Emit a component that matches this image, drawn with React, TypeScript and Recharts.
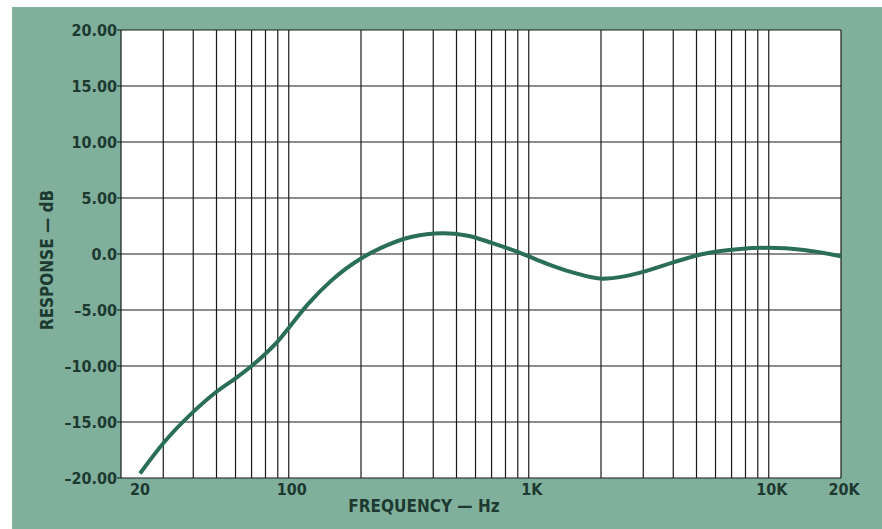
import React from "react";
import { LineChart, Line, XAxis, YAxis, CartesianGrid, Label } from "recharts";

// frequency response
const freqHz = [24, 30, 40, 50, 60, 70, 80, 90, 100, 120, 150, 200, 240, 320, 440, 550, 700, 920, 1200, 1500, 2030, 2500, 3000, 4000, 5200, 7600, 10000, 14000, 20000];
const responseDb = [-19.6, -16.9, -14.1, -12.3, -11.1, -10.0, -8.9, -7.8, -6.6, -4.5, -2.4, -0.4, 0.5, 1.5, 1.85, 1.65, 1.0, 0.1, -0.9, -1.6, -2.2, -2.0, -1.6, -0.75, -0.05, 0.45, 0.55, 0.35, -0.2];

const xGrid = [
  20, 30, 40, 50, 60, 70, 80, 90, 100,
  200, 300, 400, 500, 600, 700, 800, 900, 1000,
  2000, 3000, 4000, 5000, 6000, 7000, 8000, 9000, 10000, 20000,
];
const xLabels: Record<number, string> = { 20: "20", 100: "100", 1000: "1K", 10000: "10K", 20000: "20K" };
const yTicks = [-20, -15, -10, -5, 0, 5, 10, 15, 20];

const data = freqHz.map((hz, i) => ({ hz, db: responseDb[i] }));

const BG = "#80af9c";
const INK = "#1d3a30";
const CURVE = "#2a6e5a";
const FONT = "'DejaVu Sans Condensed', 'Liberation Sans', sans-serif";

const fmtY = (v: number) => (v === 0 ? "0.0" : v < 0 ? `\u2013${Math.abs(v).toFixed(2)}` : v.toFixed(2));

function FreqTick(props: any) {
  const { x, y, payload } = props;
  const label = xLabels[payload.value];
  if (!label) return null;
  const first = payload.value === 20;
  return (
    <text
      x={first ? x + 9 : x + 3}
      y={y + 17}
      textAnchor={first ? "start" : "middle"}
      fill={INK}
      fontFamily={FONT}
      fontWeight="bold"
      fontSize={16}
    >
      {label}
    </text>
  );
}

export default function App() {
  return (
    <div style={{ position: "absolute", left: 0, top: 0, width: 882, height: 529, background: "#fff" }}>
      <div style={{ position: "absolute", left: 12, top: 7, right: 0, bottom: 0, background: BG }} />
      <div style={{ position: "absolute", left: 0, top: 0 }}>
        <LineChart width={882} height={529} data={data} margin={{ top: 30, right: 41, bottom: 0, left: 0 }}>
          <CartesianGrid stroke="#1a1a1a" strokeWidth={1.2} fill="#fff" fillOpacity={1} />
          <XAxis
            dataKey="hz"
            type="number"
            scale="log"
            domain={[20, 20000]}
            ticks={xGrid}
            interval={0}
            allowDataOverflow
            axisLine={false}
            tickLine={false}
            tickSize={0}
            tickMargin={0}
            height={51}
            tick={<FreqTick />}
          >
            <Label
              value="FREQUENCY — Hz"
              position="insideBottom"
              offset={17}
              dx={-57}
              fill={INK}
              fontFamily={FONT}
              fontWeight="bold"
              fontSize={17}
            />
          </XAxis>
          <YAxis
            type="number"
            domain={[-20, 20]}
            ticks={yTicks}
            interval={0}
            width={121}
            axisLine={false}
            tickSize={4}
            tickMargin={0}
            tickLine={{ stroke: "#1a1a1a" }}
            tickFormatter={fmtY}
            tick={{ fill: INK, fontFamily: FONT, fontWeight: "bold", fontSize: 16 }}
          >
            <Label
              content={({ viewBox }: any) => {
                const cx = viewBox.x + 47;
                const cy = viewBox.y + viewBox.height / 2 + 6;
                return (
                  <text
                    x={cx}
                    y={cy}
                    transform={`rotate(-90 ${cx} ${cy})`}
                    textAnchor="middle"
                    dominantBaseline="central"
                    fill={INK}
                    fontFamily={FONT}
                    fontWeight="bold"
                    fontSize={17}
                  >
                    RESPONSE — dB
                  </text>
                );
              }}
            />
          </YAxis>
          <Line
            dataKey="db"
            type="monotone"
            stroke={CURVE}
            strokeWidth={4}
            dot={false}
            isAnimationActive={false}
          />
        </LineChart>
      </div>
    </div>
  );
}
